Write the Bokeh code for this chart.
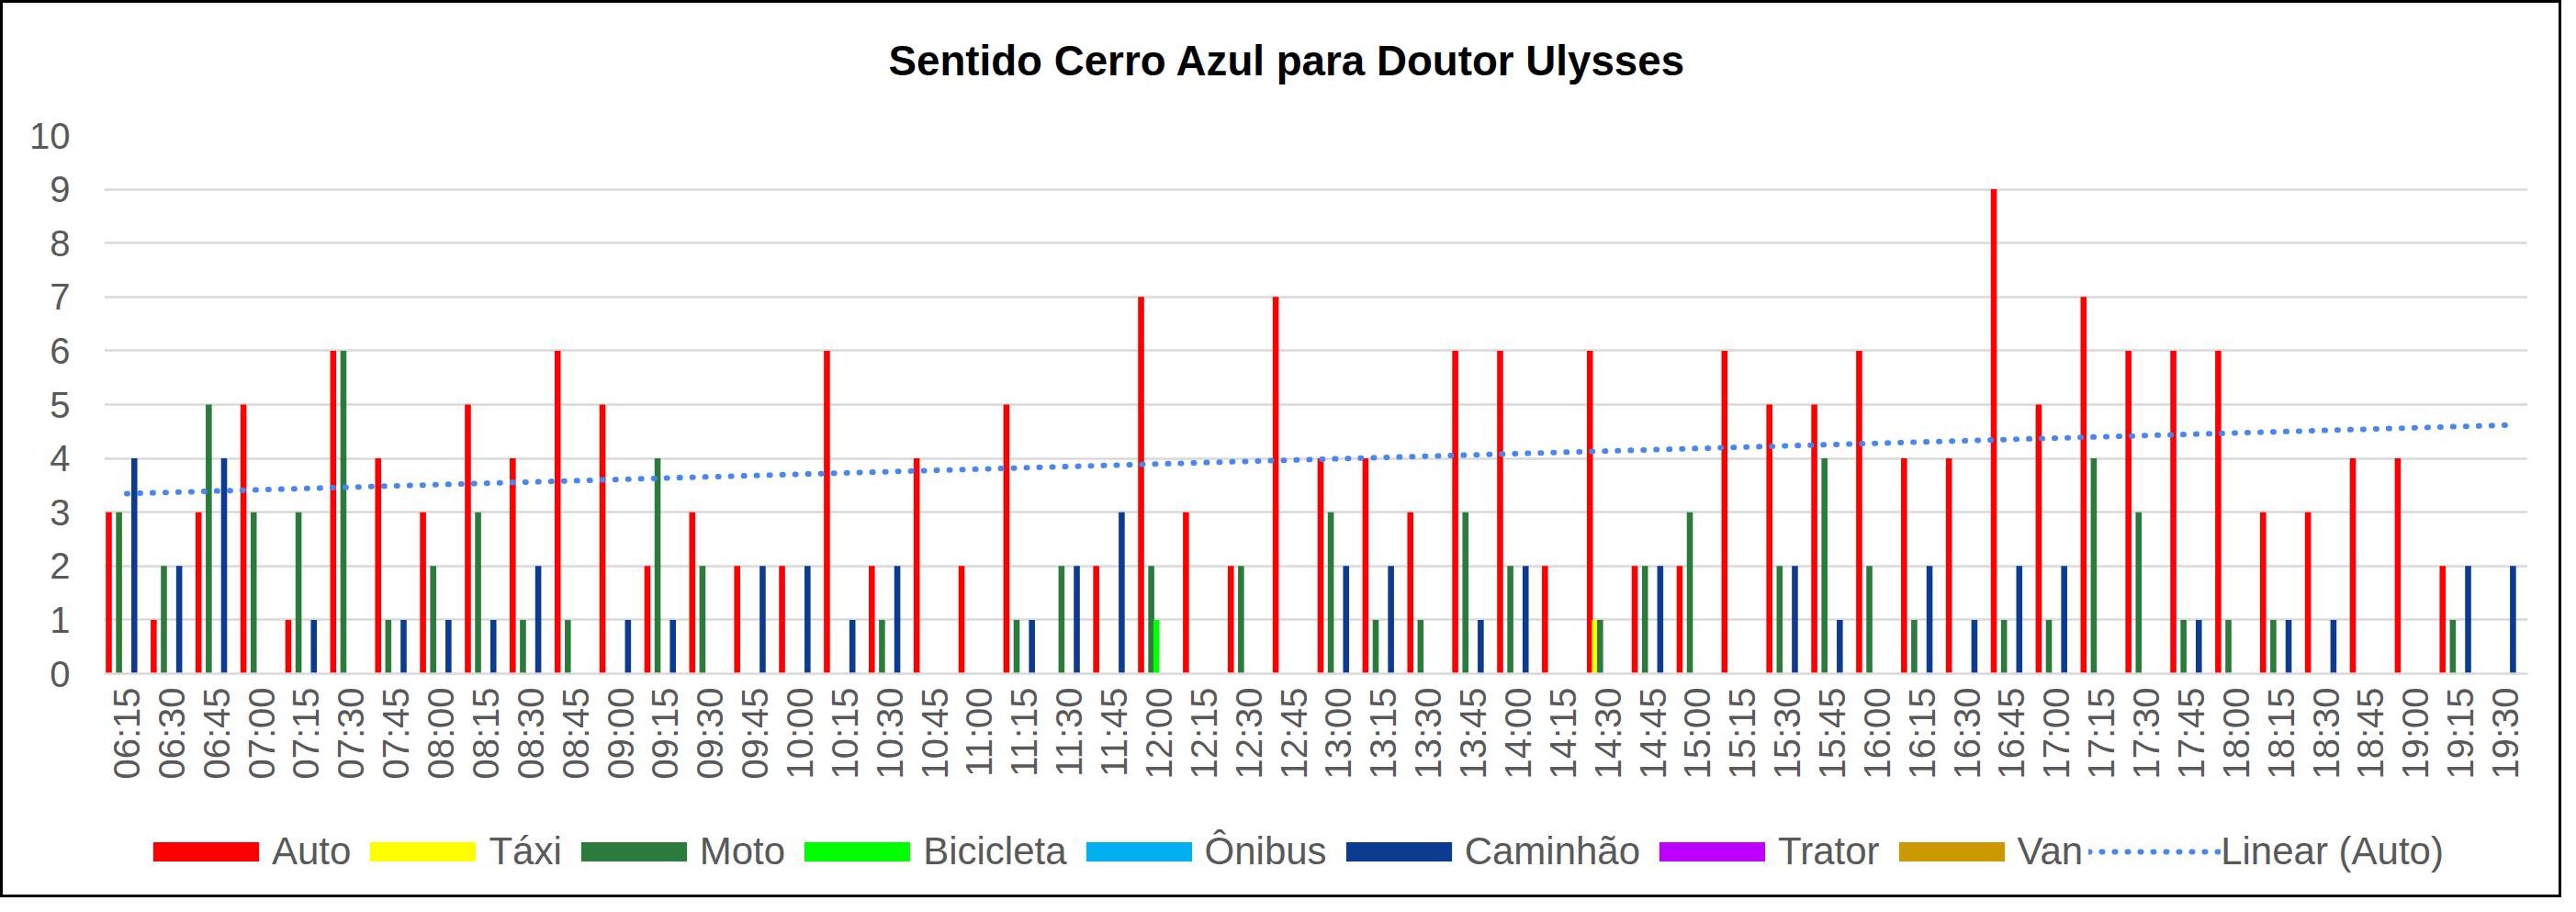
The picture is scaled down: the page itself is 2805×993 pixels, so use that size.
import numpy as np
from bokeh.plotting import figure
from bokeh.layouts import column
from bokeh.models import FactorRange, Range1d, FixedTicker, Legend, LegendItem, ColumnDataSource, Label
from bokeh.transform import dodge
from bokeh.embed import file_html
from bokeh.resources import INLINE
from math import pi

categories = ["06:15", "06:30", "06:45", "07:00", "07:15", "07:30", "07:45", "08:00", "08:15", "08:30",
              "08:45", "09:00", "09:15", "09:30", "09:45", "10:00", "10:15", "10:30", "10:45", "11:00",
              "11:15", "11:30", "11:45", "12:00", "12:15", "12:30", "12:45", "13:00", "13:15", "13:30",
              "13:45", "14:00", "14:15", "14:30", "14:45", "15:00", "15:15", "15:30", "15:45", "16:00",
              "16:15", "16:30", "16:45", "17:00", "17:15", "17:30", "17:45", "18:00", "18:15", "18:30",
              "18:45", "19:00", "19:15", "19:30"]

auto = [3, 1, 3, 5, 1, 6, 4, 3, 5, 4,
        6, 5, 2, 3, 2, 2, 6, 2, 4, 2,
        5, 0, 2, 7, 3, 2, 7, 4, 4, 3,
        6, 6, 2, 6, 2, 2, 6, 5, 5, 6,
        4, 4, 9, 5, 7, 6, 6, 6, 3, 3,
        4, 4, 2, 0]
taxi = [0, 0, 0, 0, 0, 0, 0, 0, 0, 0,
        0, 0, 0, 0, 0, 0, 0, 0, 0, 0,
        0, 0, 0, 0, 0, 0, 0, 0, 0, 0,
        0, 0, 0, 1, 0, 0, 0, 0, 0, 0,
        0, 0, 0, 0, 0, 0, 0, 0, 0, 0,
        0, 0, 0, 0]
moto = [3, 2, 5, 3, 3, 6, 1, 2, 3, 1,
        1, 0, 4, 2, 0, 0, 0, 1, 0, 0,
        1, 2, 0, 2, 0, 2, 0, 3, 1, 1,
        3, 2, 0, 1, 2, 3, 0, 2, 4, 2,
        1, 0, 1, 1, 4, 3, 1, 1, 1, 0,
        0, 0, 1, 0]
bicicleta = [0, 0, 0, 0, 0, 0, 0, 0, 0, 0,
             0, 0, 0, 0, 0, 0, 0, 0, 0, 0,
             0, 0, 0, 1, 0, 0, 0, 0, 0, 0,
             0, 0, 0, 0, 0, 0, 0, 0, 0, 0,
             0, 0, 0, 0, 0, 0, 0, 0, 0, 0,
             0, 0, 0, 0]
onibus = [0, 0, 0, 0, 0, 0, 0, 0, 0, 0,
          0, 0, 0, 0, 0, 0, 0, 0, 0, 0,
          0, 0, 0, 0, 0, 0, 0, 0, 0, 0,
          0, 0, 0, 0, 0, 0, 0, 0, 0, 0,
          0, 0, 0, 0, 0, 0, 0, 0, 0, 0,
          0, 0, 0, 0]
caminhao = [4, 2, 4, 0, 1, 0, 1, 1, 1, 2,
            0, 1, 1, 0, 2, 2, 1, 2, 0, 0,
            1, 2, 3, 0, 0, 0, 0, 2, 2, 0,
            1, 2, 0, 0, 2, 0, 0, 2, 1, 0,
            2, 1, 2, 2, 0, 0, 1, 0, 1, 1,
            0, 0, 2, 2]
trator = [0, 0, 0, 0, 0, 0, 0, 0, 0, 0,
          0, 0, 0, 0, 0, 0, 0, 0, 0, 0,
          0, 0, 0, 0, 0, 0, 0, 0, 0, 0,
          0, 0, 0, 0, 0, 0, 0, 0, 0, 0,
          0, 0, 0, 0, 0, 0, 0, 0, 0, 0,
          0, 0, 0, 0]
van = [0, 0, 0, 0, 0, 0, 0, 0, 0, 0,
       0, 0, 0, 0, 0, 0, 0, 0, 0, 0,
       0, 0, 0, 0, 0, 0, 0, 0, 0, 0,
       0, 0, 0, 0, 0, 0, 0, 0, 0, 0,
       0, 0, 0, 0, 0, 0, 0, 0, 0, 0,
       0, 0, 0, 0]

series_names = ["Auto", "Táxi", "Moto", "Bicicleta", "Ônibus", "Caminhão", "Trator", "Van"]
series_keys = ["auto", "taxi", "moto", "bicicleta", "onibus", "caminhao", "trator", "van"]
series_colors = ["#FF0000", "#FFFF00", "#2B7C3C", "#00FF00", "#00B0F0", "#0B3C91", "#C000FF", "#CC9900"]
y_ticks = [0, 1, 2, 3, 4, 5, 6, 7, 8, 9, 10]
title_text = "Sentido Cerro Azul para Doutor Ulysses"
trend_label = "Linear (Auto)"
trend_color = "#4A86F0"

# linear trendline of Auto (least squares, as a spreadsheet trendline)
idx = np.arange(1, len(categories) + 1)
slope, intercept = np.polyfit(idx, np.array(auto, dtype=float), 1)
trend = (slope * idx + intercept).tolist()

source = ColumnDataSource(dict(cat=categories, auto=auto, taxi=taxi, moto=moto, bicicleta=bicicleta,
                               onibus=onibus, caminhao=caminhao, trator=trator, van=van, trend=trend))

FONT = "Liberation Sans"
W = 2783
H_TITLE = 100
H_MAIN = 760
H_LEG = 111
BL, BR = 110, 34
pitch = 0.1136
bar_w = 0.135


def add_marks(fig):
    rs = []
    for i, (key, col) in enumerate(zip(series_keys, series_colors)):
        rs.append(fig.vbar(x=dodge("cat", (i - 3.5) * pitch, range=fig.x_range), top=key, width=bar_w,
                           bottom=0, source=source, fill_color=col, line_color=None))
    rs.append(fig.line(x="cat", y="trend", source=source, line_color=trend_color, line_width=6,
                       line_dash="1 13", line_cap="round"))
    return rs


def plain(fig):
    fig.axis.visible = False
    fig.grid.visible = False
    fig.outline_line_color = None
    fig.background_fill_color = "white"
    fig.border_fill_color = "white"


# title strip
t = figure(x_range=Range1d(0, W - BL - BR), y_range=Range1d(0, H_TITLE), width=W, height=H_TITLE,
           output_backend="svg", toolbar_location=None,
           min_border_left=BL, min_border_right=BR, min_border_top=0, min_border_bottom=0)
plain(t)
t.add_layout(Label(x=854, y=37, text=title_text, text_font=FONT, text_font_size="45.7px",
                   text_font_style="bold", text_color="#000000",
                   text_align="left", text_baseline="middle"))

# main chart
p = figure(x_range=FactorRange(*categories), y_range=Range1d(0, 10),
           width=W, height=H_MAIN, output_backend="svg", toolbar_location=None,
           min_border_left=BL, min_border_right=BR, min_border_top=44, min_border_bottom=130)
p.x_range.range_padding = 0
p.outline_line_color = None
p.background_fill_color = "white"
p.border_fill_color = "white"
add_marks(p)

p.yaxis.ticker = FixedTicker(ticks=y_ticks)
p.yaxis.axis_line_color = None
p.yaxis.major_tick_line_color = None
p.yaxis.minor_tick_line_color = None
p.yaxis.major_tick_out = 0
p.yaxis.major_label_standoff = 37
p.yaxis.major_label_text_font = FONT
p.yaxis.major_label_text_font_size = "40px"
p.yaxis.major_label_text_color = "#595959"

p.xaxis.axis_line_color = "#D9D9D9"
p.xaxis.axis_line_width = 2.5
p.xaxis.major_tick_line_color = None
p.xaxis.major_tick_out = 0
p.xaxis.major_label_orientation = pi / 2
p.xaxis.major_label_standoff = 15
p.xaxis.major_label_text_font = FONT
p.xaxis.major_label_text_font_size = "40px"
p.xaxis.major_label_text_color = "#595959"

p.xgrid.grid_line_color = None
p.ygrid.ticker = FixedTicker(ticks=y_ticks)
p.ygrid.grid_line_color = "#D9D9D9"
p.ygrid.grid_line_width = 2.5

# legend strip below the chart: same marks, scrolled out of view, only their legend shows
q = figure(x_range=FactorRange(*categories), y_range=Range1d(100, 101), width=W, height=H_LEG,
           output_backend="svg", toolbar_location=None,
           min_border_left=BL, min_border_right=BR, min_border_top=0, min_border_bottom=0)
q.x_range.range_padding = 0
plain(q)
q_rs = add_marks(q)

items = [LegendItem(label=name, renderers=[r]) for name, r in zip(series_names + [trend_label], q_rs)]
legend = Legend(items=items, orientation="horizontal", location=(39, 23),
                glyph_width=144, glyph_height=26, label_standoff=-3, spacing=6,
                padding=0, margin=0, border_line_color=None, background_fill_alpha=0,
                label_text_font=FONT, label_text_font_size="42px", label_text_color="#595959")
q.add_layout(legend, "center")

layout = column(t, p, q, spacing=0, styles={"border": "3px solid #000000"})

open("out.html", "w").write(file_html(layout, INLINE))
